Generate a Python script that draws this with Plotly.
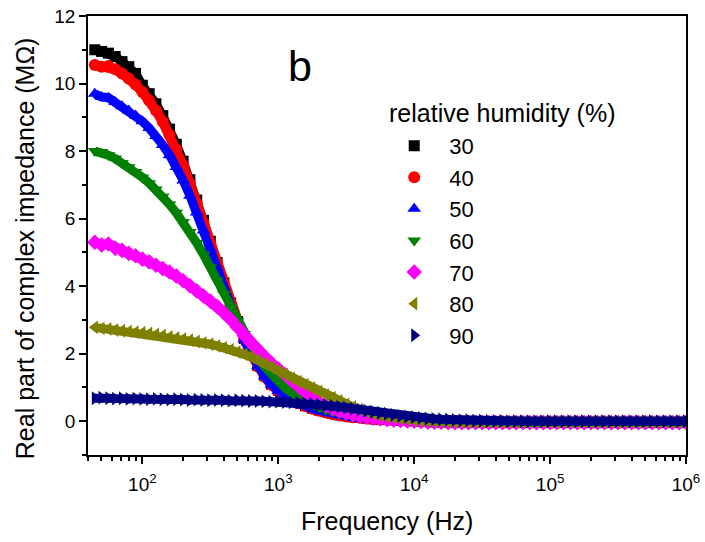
import numpy as np
import plotly.graph_objects as go

# measurement grid: log-spaced frequency sweep (Hz)
freq = 10 ** np.round(np.arange(1.65, 6.0001, 0.05), 2)

rh_labels = ["30", "40", "50", "60", "70", "80", "90"]

z_30 = [11.0, 10.95, 10.9, 10.8, 10.65, 10.5, 10.3, 9.95, 9.7, 9.4,
        9.05, 8.65, 8.2, 7.7, 7.15, 6.55, 5.95, 5.33, 4.7, 4.1,
        3.5, 2.95, 2.45, 2.02, 1.65, 1.35, 1.1, 0.92,
        0.78, 0.65, 0.55, 0.46, 0.39, 0.33, 0.28, 0.23, 0.19, 0.16,
        0.13, 0.11, 0.09, 0.07, 0.06, 0.05, 0.04, 0.03, 0.02, 0.01,
        0.0, -0.01, -0.02, -0.02, -0.03, -0.03, -0.03, -0.03, -0.03, -0.03,
        -0.03, -0.03, -0.03, -0.03, -0.03, -0.03, -0.03, -0.03, -0.03, -0.03,
        -0.03, -0.03, -0.03, -0.03, -0.03, -0.03, -0.03, -0.03, -0.03, -0.03,
        -0.03, -0.03, -0.03, -0.03, -0.03, -0.03, -0.03, -0.03, -0.03, -0.03]
z_40 = [10.55, 10.5, 10.52, 10.42, 10.3, 10.15, 9.97, 9.75, 9.5, 9.2,
        8.87, 8.48, 8.05, 7.57, 7.03, 6.45, 5.87, 5.27, 4.66, 4.06,
        3.47, 2.92, 2.42, 1.99, 1.62, 1.32, 1.07, 0.89,
        0.75, 0.63, 0.53, 0.44, 0.37, 0.31, 0.26, 0.21, 0.17, 0.14,
        0.12, 0.1, 0.08, 0.06, 0.05, 0.04, 0.03, 0.02, 0.01, 0.0,
        -0.01, -0.02, -0.02, -0.03, -0.03, -0.03, -0.03, -0.03, -0.03, -0.03,
        -0.03, -0.03, -0.03, -0.03, -0.03, -0.03, -0.03, -0.03, -0.03, -0.03,
        -0.03, -0.03, -0.03, -0.03, -0.03, -0.03, -0.03, -0.03, -0.03, -0.03,
        -0.03, -0.03, -0.03, -0.03, -0.03, -0.03, -0.03, -0.03, -0.03, -0.03]
z_50 = [9.7, 9.6, 9.58, 9.45, 9.33, 9.2, 9.05, 8.88, 8.68, 8.45,
        8.18, 7.88, 7.53, 7.13, 6.68, 6.18, 5.65, 5.1, 4.54, 3.98,
        3.43, 2.9, 2.42, 2.0, 1.63, 1.33, 1.08, 0.9,
        0.76, 0.64, 0.54, 0.45, 0.38, 0.32, 0.27, 0.22, 0.18, 0.15,
        0.12, 0.1, 0.08, 0.06, 0.05, 0.04, 0.03, 0.02, 0.01, 0.0,
        -0.01, -0.02, -0.02, -0.03, -0.03, -0.03, -0.03, -0.03, -0.03, -0.03,
        -0.03, -0.03, -0.03, -0.03, -0.03, -0.03, -0.03, -0.03, -0.03, -0.03,
        -0.03, -0.03, -0.03, -0.03, -0.03, -0.03, -0.03, -0.03, -0.03, -0.03,
        -0.03, -0.03, -0.03, -0.03, -0.03, -0.03, -0.03, -0.03, -0.03, -0.03]
z_60 = [8.0, 7.97, 7.88, 7.78, 7.65, 7.52, 7.38, 7.22, 7.05, 6.86,
        6.65, 6.42, 6.17, 5.9, 5.6, 5.28, 4.93, 4.56, 4.17, 3.77,
        3.37, 2.97, 2.58, 2.22, 1.9, 1.62, 1.38, 1.17,
        0.99, 0.84, 0.71, 0.6, 0.5, 0.42, 0.35, 0.29, 0.24, 0.2,
        0.16, 0.13, 0.11, 0.09, 0.07, 0.05, 0.04, 0.03, 0.02, 0.01,
        0.0, -0.01, -0.02, -0.02, -0.03, -0.03, -0.03, -0.03, -0.03, -0.03,
        -0.03, -0.03, -0.03, -0.03, -0.03, -0.03, -0.03, -0.03, -0.03, -0.03,
        -0.03, -0.03, -0.03, -0.03, -0.03, -0.03, -0.03, -0.03, -0.03, -0.03,
        -0.03, -0.03, -0.03, -0.03, -0.03, -0.03, -0.03, -0.03, -0.03, -0.03]
z_70 = [5.3, 5.22, 5.25, 5.12, 5.06, 4.97, 4.9, 4.8, 4.72, 4.62,
        4.52, 4.42, 4.3, 4.16, 4.01, 3.86, 3.71, 3.56, 3.4, 3.21,
        3.01, 2.78, 2.54, 2.32, 2.11, 1.91, 1.72, 1.55,
        1.38, 1.2, 1.02, 0.85, 0.7, 0.57, 0.46, 0.37, 0.3, 0.24,
        0.19, 0.15, 0.12, 0.09, 0.07, 0.05, 0.03, 0.02, 0.01, 0.0,
        -0.01, -0.02, -0.03, -0.03, -0.04, -0.04, -0.04, -0.04, -0.04, -0.04,
        -0.04, -0.04, -0.04, -0.04, -0.04, -0.04, -0.04, -0.04, -0.04, -0.04,
        -0.04, -0.04, -0.04, -0.04, -0.04, -0.04, -0.04, -0.04, -0.04, -0.04,
        -0.04, -0.04, -0.04, -0.04, -0.04, -0.04, -0.04, -0.04, -0.04, -0.04]
z_80 = [2.78, 2.75, 2.73, 2.7, 2.68, 2.66, 2.64, 2.62, 2.6, 2.57,
        2.54, 2.5, 2.47, 2.44, 2.4, 2.36, 2.32, 2.28, 2.23, 2.18,
        2.12, 2.05, 1.98, 1.9, 1.8, 1.7, 1.6, 1.48,
        1.38, 1.27, 1.17, 1.08, 0.98, 0.88, 0.78, 0.7, 0.6, 0.5,
        0.42, 0.35, 0.28, 0.23, 0.18, 0.14, 0.11, 0.08, 0.06, 0.04,
        0.02, 0.01, 0.0, -0.01, -0.02, -0.02, -0.03, -0.03, -0.03, -0.03,
        -0.03, -0.03, -0.03, -0.03, -0.03, -0.03, -0.03, -0.03, -0.03, -0.03,
        -0.03, -0.03, -0.03, -0.03, -0.03, -0.03, -0.03, -0.03, -0.03, -0.03,
        -0.03, -0.03, -0.03, -0.03, -0.03, -0.03, -0.03, -0.03, -0.03, -0.03]
z_90 = [0.68, 0.7, 0.68, 0.67, 0.68, 0.66, 0.67, 0.66, 0.65, 0.66,
        0.65, 0.64, 0.65, 0.64, 0.63, 0.64, 0.63, 0.62, 0.63, 0.62,
        0.61, 0.62, 0.61, 0.6, 0.6, 0.59, 0.58, 0.58,
        0.57, 0.56, 0.55, 0.53, 0.52, 0.5, 0.48, 0.46, 0.43, 0.4,
        0.37, 0.34, 0.31, 0.28, 0.25, 0.22, 0.19, 0.16, 0.14, 0.12,
        0.1, 0.08, 0.07, 0.06, 0.05, 0.04, 0.03, 0.03, 0.02, 0.02,
        0.01, 0.01, 0.01, 0.0, 0.0, 0.0, 0.0, 0.0, 0.0, 0.0,
        0.0, 0.0, 0.0, 0.0, 0.0, 0.0, 0.0, 0.0, 0.0, 0.0,
        0.0, 0.0, 0.0, 0.0, 0.0, 0.0, 0.0, 0.0, 0.0, 0.0]

series = [z_30, z_40, z_50, z_60, z_70, z_80, z_90]
colors = ["#000000", "#FF0000", "#0000FF", "#008000", "#FF00FF", "#808000", "#000080"]
symbols = ["square", "circle", "triangle-up", "triangle-down", "diamond",
           "triangle-left", "triangle-right"]
sizes = [11, 12, 12, 12, 12, 12, 12]
bands = [9, 10, 9, 9, 10, 9, 9]

FONT = "Liberation Sans, Arial, sans-serif"

fig = go.Figure()
for lab, ys, c, s, sz, bw in zip(rh_labels, series, colors, symbols, sizes, bands):
    n = min(len(ys), len(freq))
    # dense measurement band
    fig.add_trace(go.Scatter(
        x=freq[:n], y=ys[:n], mode="lines", showlegend=False, hoverinfo="skip",
        legendgroup=lab, line=dict(color=c, width=bw),
    ))
    fig.add_trace(go.Scatter(
        x=freq[:n], y=ys[:n], mode="markers", name=lab, legendgroup=lab,
        marker=dict(symbol=s, color=c, size=sz, line=dict(width=0)),
    ))

xt = [1e2, 1e3, 1e4, 1e5, 1e6]
xt_text = ["10<sup>2</sup>", "10<sup>3</sup>", "10<sup>4</sup>",
           "10<sup>5</sup>", "10<sup>6</sup>"]
minor_x = [m * 10 ** d for d in range(1, 6) for m in range(2, 10)]
minor_x = [v for v in minor_x if v >= 40]

fig.update_layout(
    width=705, height=542,
    margin=dict(l=88, r=19, t=16, b=87, autoexpand=False),
    paper_bgcolor="white", plot_bgcolor="white",
    font=dict(family=FONT, size=19, color="black"),
    showlegend=True,
    legend=dict(
        x=0.487, y=0.752, xanchor="left", yanchor="top",
        bgcolor="rgba(0,0,0,0)",
        font=dict(size=22, family=FONT),
        traceorder="normal",
        itemsizing="trace", itemwidth=60,
    ),
    annotations=[
        dict(text="b", x=0.355, y=0.886, xref="paper", yref="paper",
             xanchor="center", yanchor="middle", showarrow=False,
             font=dict(size=43, family=FONT)),
        dict(text="relative humidity (%)", x=0.5, y=0.779, xref="paper", yref="paper",
             xanchor="left", yanchor="middle", showarrow=False,
             font=dict(size=25, family=FONT)),
        dict(text="Frequency (Hz)", x=0.5, y=-0.150, xref="paper", yref="paper",
             xanchor="center", yanchor="middle", showarrow=False,
             font=dict(size=25, family=FONT)),
        dict(text="Real part of complex impedance (MΩ)", x=-0.105, y=0.4715,
             xref="paper", yref="paper", textangle=-90,
             xanchor="center", yanchor="middle", showarrow=False,
             font=dict(size=25, family=FONT)),
    ],
)

fig.update_xaxes(
    type="log", range=[1.6, 6.0], automargin=False,
    tickmode="array", tickvals=xt, ticktext=xt_text,
    tickfont=dict(size=19), ticklabeloverflow="allow", ticklabelstandoff=4,
    ticks="outside", ticklen=7, tickwidth=1.5, tickcolor="black",
    minor=dict(tickmode="array", tickvals=minor_x, ticks="outside", ticklen=4,
               tickwidth=1.5, tickcolor="black"),
    showline=True, linecolor="black", linewidth=1.5, mirror=True,
    showgrid=False, zeroline=False,
)
fig.update_yaxes(
    range=[-1, 12], automargin=False,
    tickmode="array", tickvals=[0, 2, 4, 6, 8, 10, 12],
    tickfont=dict(size=19), ticklabeloverflow="allow",
    ticks="outside", ticklen=7, tickwidth=1.5, tickcolor="black",
    minor=dict(tickmode="array", tickvals=[-1, 1, 3, 5, 7, 9, 11], ticks="outside",
               ticklen=4, tickwidth=1.5, tickcolor="black"),
    showline=True, linecolor="black", linewidth=1.5, mirror=True,
    showgrid=False, zeroline=False,
)

fig.write_html("out.html", config={"displayModeBar": False},
               post_script="document.body.style.margin='0px';")
